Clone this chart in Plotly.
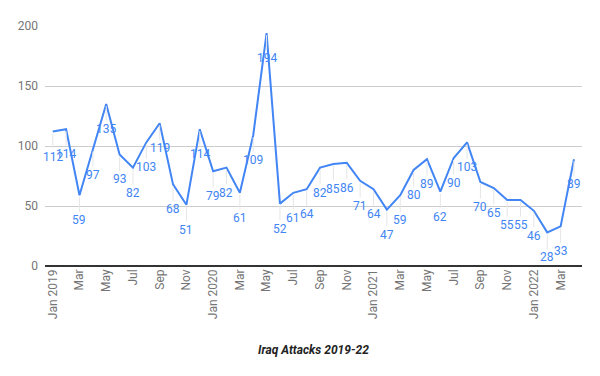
import plotly.graph_objects as go

months = ["Jan 2019", "Feb", "Mar", "Apr", "May", "Jun", "Jul", "Aug", "Sep", "Oct", "Nov", "Dec",
          "Jan 2020", "Feb", "Mar", "Apr", "May", "Jun", "Jul", "Aug", "Sep", "Oct", "Nov", "Dec",
          "Jan 2021", "Feb", "Mar", "Apr", "May", "Jun", "Jul", "Aug", "Sep", "Oct", "Nov", "Dec",
          "Jan 2022", "Feb", "Mar", "Apr"]
attacks = [112, 114, 59, 97, 135, 93, 82, 103, 119, 68, 51, 114,
           79, 82, 61, 109, 194, 52, 61, 64, 82, 85, 86, 71,
           64, 47, 59, 80, 89, 62, 90, 103, 70, 65, 55, 55,
           46, 28, 33, 89]
title_text = "Iraq Attacks 2019-22"

x = list(range(len(attacks)))
BLUE = "#4285F4"

fig = go.Figure()
fig.add_trace(go.Scatter(x=x, y=attacks, mode="lines",
                         line=dict(color=BLUE, width=2), cliponaxis=False,
                         hoverinfo="skip"))

annotations = []
for xi, v in zip(x, attacks):
    annotations.append(dict(x=xi, y=v, xref="x", yref="y", text=str(v),
                            showarrow=True, arrowhead=0, arrowwidth=1,
                            arrowcolor="#e6e6e6", ax=0, ay=25, standoff=2,
                            font=dict(family="Roboto", size=12, color=BLUE)))
annotations.append(dict(x=0.5, y=-0.35, xref="paper", yref="paper", text="<b><i>" + title_text + "</i></b>",
                        showarrow=False, yanchor="middle",
                        font=dict(family="Roboto", size=12, color="#222222")))

fig.update_layout(
    width=592, height=368,
    margin=dict(l=37, r=18, t=18, b=110),
    paper_bgcolor="white", plot_bgcolor="white",
    showlegend=False,
    annotations=annotations,
    xaxis=dict(range=[-0.58, 39.6], tickvals=x[::2], ticktext=months[::2],
               tickangle=-90, showgrid=False, zeroline=False, showline=False,
               automargin=False,
               tickfont=dict(family="Roboto", size=12, color="#757575"), ticks=""),
    yaxis=dict(range=[0, 200], tickvals=[0, 50, 100, 150, 200],
               showgrid=True, gridcolor="#cccccc", gridwidth=1,
               zeroline=True, zerolinecolor="#333333", zerolinewidth=1.5,
               automargin=False,
               tickfont=dict(family="Roboto", size=12, color="#757575"), ticks="",
               ticklabelstandoff=6),
)

fig.write_html("out.html")
